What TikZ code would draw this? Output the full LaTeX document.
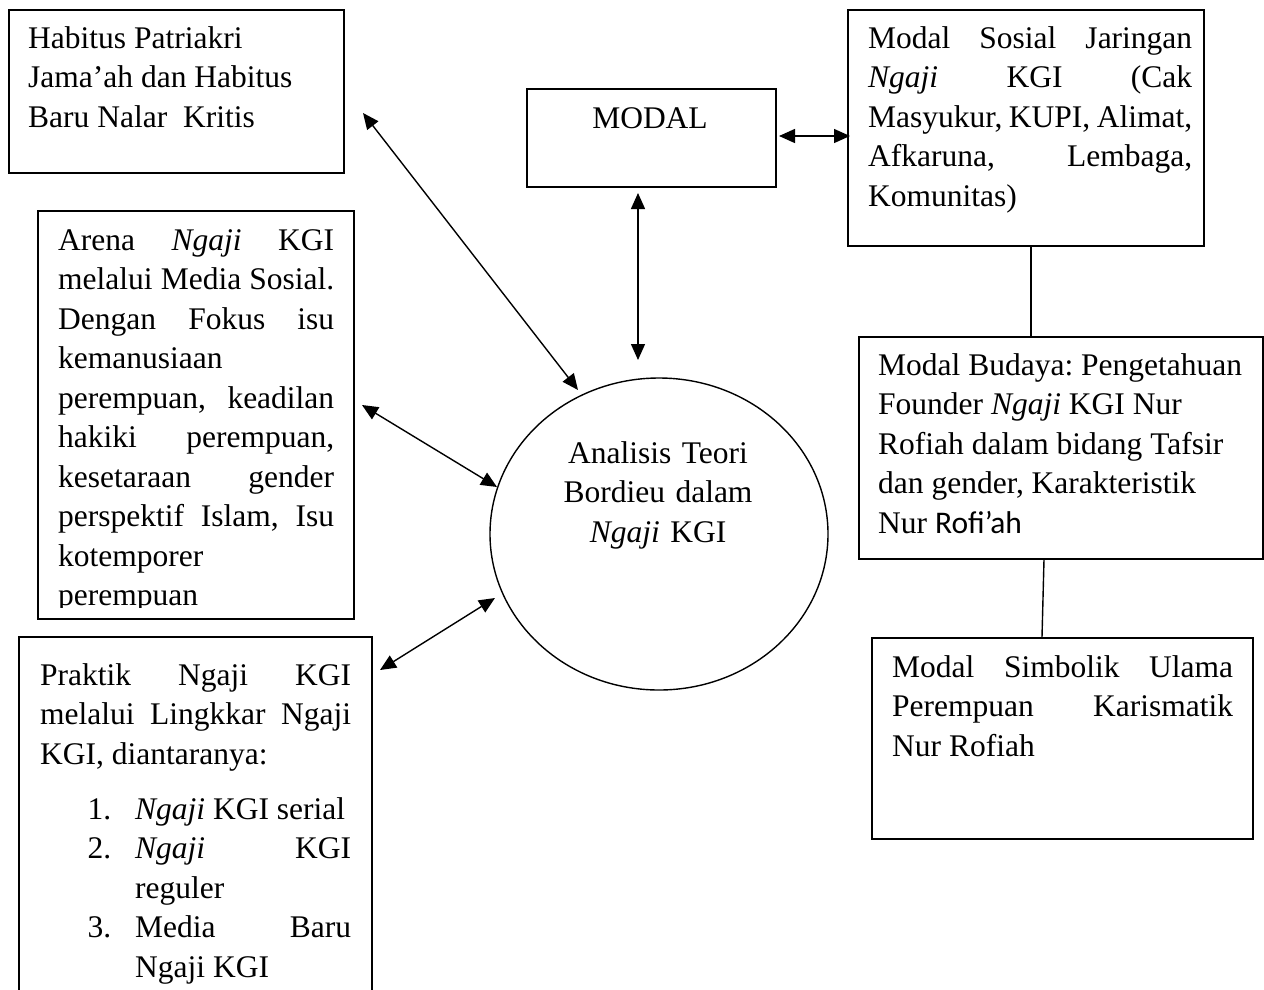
\documentclass[tikz,border=0pt]{standalone}
\usepackage{fontspec}
\setmainfont{Liberation Serif}
\newfontfamily\calibri{Carlito}
\usepackage{enumitem}
\usetikzlibrary{arrows.meta,shapes.geometric}
\hyphenpenalty=10000
\hbadness=10000
\frenchspacing

\tikzset{
	box/.style={draw, line width=1.6pt, inner sep=0pt, anchor=north west},
	txt/.style={anchor=base west, inner sep=0pt, align=justify},
	link/.style={line width=1.4pt, {Triangle[length=16pt,width=14pt]}-{Triangle[length=16pt,width=14pt]}},
	plain/.style={line width=1.4pt}
}

\begin{document}
\begin{tikzpicture}[x=1pt, y=-1pt, font=\fontsize{31.5}{39.5}\selectfont]
		\useasboundingbox (0,0) rectangle (1264,989);
		\clip (0,0) rectangle (1264,989);

		% left column
		\node[box, minimum width=335, minimum height=163] (habitus) at (8,9) {};
		\node[txt, text width=300] (habitus-txt) at (28,48) {Habitus Patriakri\newline Jama’ah dan Habitus\newline Baru Nalar\ \ Kritis};

		\node[box, minimum width=316, minimum height=408] (arena) at (37,210) {};
		\begin{scope}
			\clip (37,210) rectangle (353,607);
			\node[txt, text width=276] (arena-txt) at (58,250) {Arena \textit{Ngaji} KGI\linebreak melalui Media Sosial.\linebreak Dengan Fokus isu\linebreak kemanusiaan\newline perempuan, keadilan\linebreak hakiki perempuan,\linebreak kesetaraan gender\linebreak perspektif Islam, Isu\linebreak kotemporer\newline perempuan};
		\end{scope}

		\node[box, minimum width=353, minimum height=400] (praktik) at (18,636) {};
		\node[txt, text width=311] (praktik-txt) at (40,685) {Praktik Ngaji KGI\linebreak melalui Lingkkar Ngaji\linebreak KGI, diantaranya:
			\begin{enumerate}[leftmargin=95pt, labelsep=24pt, labelwidth=40pt, topsep=15.5pt, partopsep=0pt, itemsep=0pt, parsep=0pt]
				\item \textit{Ngaji} KGI serial
				\item \textit{Ngaji} KGI\linebreak reguler
				\item Media Baru\linebreak Ngaji KGI
			\end{enumerate}};

		% middle
		\node[box, minimum width=249, minimum height=98] (modal) at (526,88) {};
		\node[anchor=base, inner sep=0pt] (modal-txt) at (650,128) {MODAL};

		\node[draw, ellipse, line width=1.4pt, minimum width=338, minimum height=312, inner sep=0pt] (teori) at (659,534) {};
		\node[anchor=base, text width=300, align=center, inner sep=0pt] (teori-txt) at (658,463) {Analisis Teori\\ Bordieu dalam\\ \textit{Ngaji} KGI};

		% right column
		\node[box, minimum width=356, minimum height=236] (sosial) at (847,9) {};
		\node[txt, text width=324] (sosial-txt) at (868,48) {Modal Sosial Jaringan\linebreak \textit{Ngaji} KGI (Cak\linebreak Masyukur, KUPI, Alimat,\linebreak Afkaruna, Lembaga,\linebreak Komunitas)};

		\node[box, minimum width=404, minimum height=222] (budaya) at (858,336) {};
		\node[txt, text width=375] (budaya-txt) at (878,375) {Modal Budaya: Pengetahuan\newline Founder \textit{Ngaji} KGI Nur\newline Rofiah dalam bidang Tafsir\newline dan gender, Karakteristik\newline Nur {\calibri Rofi’ah}};

		\node[box, minimum width=381, minimum height=201] (simbolik) at (871,637) {};
		\node[txt, text width=341] (simbolik-txt) at (892,677) {Modal Simbolik Ulama\linebreak Perempuan Karismatik\linebreak Nur Rofiah};

		% arrow ends
		\coordinate (h1) at (363,113);
		\coordinate (h2) at (578,390);
		\coordinate (m1) at (638,193);
		\coordinate (m2) at (638,360);
		\coordinate (s1) at (779,136);
		\coordinate (s2) at (850,136);
		\coordinate (a1) at (362,405);
		\coordinate (a2) at (497,487);
		\coordinate (p1) at (380,670);
		\coordinate (p2) at (495,598);
		\coordinate (c1) at (1031,0);
		\coordinate (c2) at (1044,0);
		\coordinate (c3) at (1042,0);

		\draw[link] (h1) -- (h2);
		\draw[link] (m1) -- (m2);
		\draw[link] (s1) -- (s2);
		\draw[link] (a1) -- (a2);
		\draw[link] (p1) -- (p2);
		\draw[plain] (sosial.south -| c1) -- (budaya.north -| c1);
		\draw[plain] (budaya.south -| c2) -- (simbolik.north -| c3);
	\end{tikzpicture}
\end{document}
